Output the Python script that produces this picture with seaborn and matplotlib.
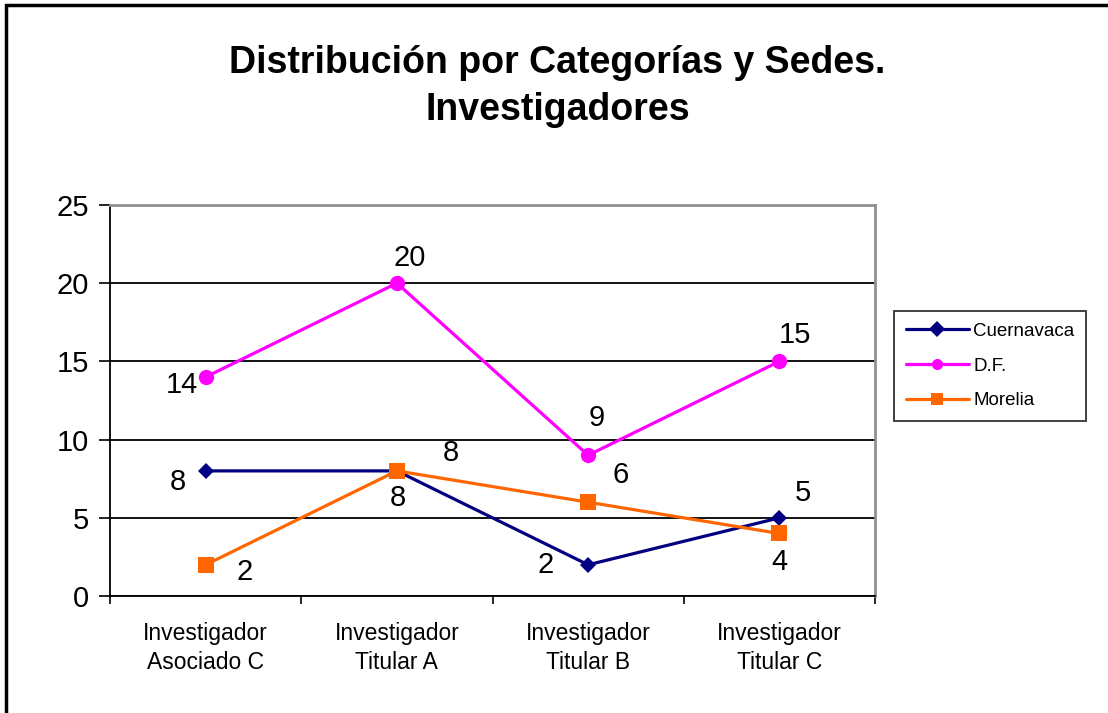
import matplotlib
matplotlib.use("Agg")
import matplotlib.pyplot as plt
import matplotlib.patches as patches
import seaborn as sns
import pandas as pd

# Chart data
categorias = ["Investigador\nAsociado C", "Investigador\nTitular A",
              "Investigador\nTitular B", "Investigador\nTitular C"]
cuernavaca = [8, 8, 2, 5]
df_sede = [14, 20, 9, 15]
morelia = [2, 8, 6, 4]
sedes = ["Cuernavaca", "D.F.", "Morelia"]
colores = ["#000080", "#FF00FF", "#FF6600"]
marcadores = ["D", "o", "s"]

sns.set_style("white")
plt.rcParams['font.family'] = ['Liberation Sans', 'DejaVu Sans']
plt.rcParams['text.color'] = 'black'
plt.rcParams['xtick.color'] = 'black'
plt.rcParams['ytick.color'] = 'black'

# long-form table for seaborn
rows = []
for sede, vals in zip(sedes, [cuernavaca, df_sede, morelia]):
    for i, v in enumerate(vals):
        rows.append({"pos": i, "valor": v, "sede": sede})
data = pd.DataFrame(rows)

fig = plt.figure(figsize=(11.08, 7.13), dpi=100)
ax = fig.add_axes([0.0993, 0.164, 0.6904, 0.5486])

sns.lineplot(data=data, x="pos", y="valor", hue="sede", style="sede",
             palette=dict(zip(sedes, colores)),
             markers=dict(zip(sedes, marcadores)), dashes=False,
             linewidth=2.3, markersize=11, markeredgewidth=0, ax=ax)

# marker sizes a bit different per series (Excel style)
for line, ms in zip(ax.get_lines()[:3], [8, 11, 12]):
    line.set_markersize(ms)

# data labels (offsets in pixels, as placed in the original)
offsets = {
    "Cuernavaca": [(-28, -11), (1, -27), (-43, 0), (24, 25)],
    "D.F.": [(-24, -8), (13, 25), (9, 37), (16, 26)],
    "Morelia": [(39, -7), (54, 18), (32, 27), (0, -29)],
}
for sede, vals in zip(sedes, [cuernavaca, df_sede, morelia]):
    for i, v in enumerate(vals):
        ax.annotate(str(v), (i, v), xytext=offsets[sede][i],
                    textcoords="offset pixels", ha="center", va="center",
                    fontsize=21, color="black")

ax.set_xlim(-0.5, 3.5)
ax.set_ylim(0, 25)
ax.set_yticks([0, 5, 10, 15, 20, 25])
ax.set_xticks(range(4))
ax.set_xticklabels(categorias, fontsize=16.5, linespacing=1.3)
ax.set_xticks([-0.5, 0.5, 1.5, 2.5, 3.5], minor=True)
ax.tick_params(axis="x", which="major", length=0, pad=19)
ax.tick_params(axis="x", which="minor", length=6, width=1.2, direction="out",
               color="black", bottom=True)
ax.tick_params(axis="y", length=8, width=1.2, direction="out", color="black",
               labelsize=21, pad=7, left=True)
ax.set_xlabel("")
ax.set_ylabel("")

ax.yaxis.grid(True, color="black", linewidth=1.3)
ax.set_axisbelow(True)
for side in ["left", "bottom"]:
    ax.spines[side].set_color("black")
    ax.spines[side].set_linewidth(1.3)
for side in ["top", "right"]:
    ax.spines[side].set_visible(True)
    ax.spines[side].set_color("#909090")
    ax.spines[side].set_linewidth(2)

leg = ax.legend(loc="center", bbox_to_anchor=(0.8935, 0.4867),
                bbox_transform=fig.transFigure, frameon=True, fancybox=False,
                edgecolor="black", fontsize=13.5, handlelength=3.4,
                labelspacing=0.95, borderpad=0.6, handletextpad=0.2)
leg.get_frame().set_linewidth(1.3)
for h in leg.legend_handles:
    h.set_markersize(8)

fig.text(0.503, 0.879, "Distribución por Categorías y Sedes.\nInvestigadores",
         ha="center", va="center", fontsize=27, fontweight="bold",
         linespacing=1.4)

# outer chart border
fig.patches.append(patches.Rectangle((6 / 1108, -0.1), 1.2, 1.093,
                                     transform=fig.transFigure, fill=False,
                                     edgecolor="black", linewidth=2.5))

fig.savefig("out.png", dpi=100)
